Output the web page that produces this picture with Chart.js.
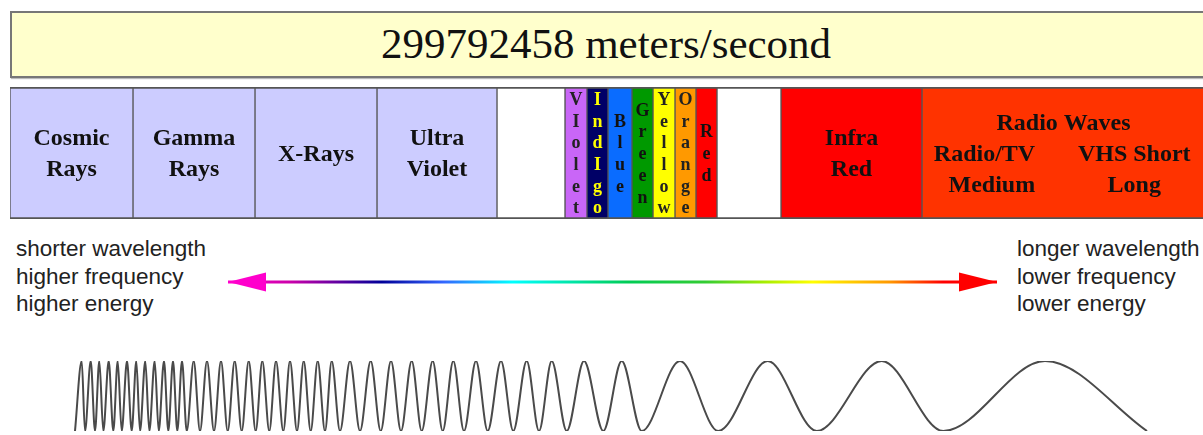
<!DOCTYPE html>
<html>
<head>
<meta charset="utf-8">
<script src="https://cdn.jsdelivr.net/npm/chart.js@4"></script>
<style>
  body { margin: 0; width: 1203px; height: 435px; overflow: hidden; position: relative; background: #fff; }
  #speed {
    position: absolute; left: 10px; top: 11px; width: 1196px; height: 67px; box-sizing: border-box;
    background: #ffffcc; border: 2px solid #777; box-shadow: 1px 1px 1px #bbb;
    font: 43px "Liberation Serif", "Times New Roman", serif; color: #111;
    text-align: center; line-height: 62px; padding-right: 4px;
  }
  .side {
    position: absolute; top: 235px;
    font: 22.5px "Liberation Sans", Arial, sans-serif; line-height: 27.5px; color: #222;
  }
  canvas { position: absolute; }
</style>
</head>
<body>
<div id="speed">299792458 meters/second</div>
<canvas id="spectrum" width="1195" height="132" style="left:10px;top:87px"></canvas>
<div class="side" style="left:16px">shorter wavelength<br>higher frequency<br>higher energy</div>
<div class="side" style="left:1017px">longer wavelength<br>lower frequency<br>lower energy</div>
<canvas id="arrow" width="1203" height="40" style="left:0;top:262px"></canvas>
<canvas id="wave" width="1203" height="81" style="left:0;top:354px"></canvas>
<script>
// bands of the spectrum, left to right
const bandLabels = ['Cosmic\nRays', 'Gamma\nRays', 'X-Rays', 'Ultra\nViolet', '',
  'VIolet', 'IndIgo', 'Blue', 'Green', 'Yellow', 'Orange', 'Red', '',
  'Infra\nRed', 'Radio Waves\nRadio/TV|VHS Short\nMedium|Long'];
const bandWidths = [123, 122, 122, 120, 68, 22, 21, 24, 21, 22, 21, 21, 64, 141, 283];
const bandVertical = [false, false, false, false, false, true, true, true, true, true, true, true, false, false, false];
const bandColors = ['#ccccff', '#ccccff', '#ccccff', '#ccccff', '#ffffff',
  '#c966f7', '#000066', '#0a6cff', '#009900', '#ffff00', '#ff9900', '#ff0000', '#ffffff',
  '#ff0000', '#ff3300'];
const bandTextColors = ['#111', '#111', '#111', '#111', '#111',
  '#222', '#ffff00', '#111', '#111', '#222', '#222', '#111', '#111', '#111', '#111'];

// arrow between the side texts
const arrowEnds = [228, 997];

// crests and troughs of the wave
const wavePeaks = [81.7, 90.7, 99.3, 108.7, 117.7, 127, 136.3, 145.3, 154.7, 164, 173, 182,
  193.7, 207, 221, 234.7, 248.7, 262.3, 276, 290, 303.7, 317.7, 331.7, 350, 370.7, 391,
  411.7, 432.7, 453.3, 476, 501, 526.7, 551.7, 584, 621.7, 680, 767.7, 881.7, 1045];
const waveTroughs = [75, 85, 95, 103.3, 113.3, 121.7, 131.7, 140, 149.3, 158.7, 168.3, 177.3,
  186.7, 200, 214, 227.7, 241.7, 255.7, 269.3, 283.3, 297, 310.7, 325, 340, 360, 380.7,
  401, 421.7, 442.7, 464, 487.7, 513.3, 539, 566.7, 603.3, 641.7, 718.3, 816.7, 943.3, 1147];

const bandLabelPlugin = {
  id: 'bandLabels',
  afterDatasetsDraw(chart) {
    const ctx = chart.ctx;
    ctx.save();
    ctx.textBaseline = 'middle';
    chart.data.datasets.forEach((ds, i) => {
      const bar = chart.getDatasetMeta(i).data[0];
      const left = Math.min(bar.base, bar.x), right = Math.max(bar.base, bar.x);
      const cx = (left + right) / 2;
      const cy = bar.y + 1.5;
      const vertical = bandVertical[i];
      const lines = vertical ? bandLabels[i].split('') : bandLabels[i].split('\n').filter(s => s);
      const step = vertical ? 21.7 : 31;
      ctx.font = vertical ? 'bold 18px "Liberation Serif"' : 'bold 24px "Liberation Serif"';
      ctx.fillStyle = bandTextColors[i];
      lines.forEach((line, k) => {
        const y = cy + (k - (lines.length - 1) / 2) * step;
        const parts = line.split('|');
        if (parts.length == 2) {
          ctx.textAlign = 'right';
          ctx.fillText(parts[0], left + (right - left) * 0.4, y);
          ctx.textAlign = 'center';
          ctx.fillText(parts[1], left + (right - left) * 0.75, y);
        } else {
          ctx.textAlign = 'center';
          ctx.fillText(line, cx, y);
        }
      });
    });
    ctx.restore();
  }
};

new Chart(document.getElementById('spectrum'), {
  type: 'bar',
  data: {
    labels: ['spectrum'],
    datasets: bandWidths.map((w, i) => ({
      label: bandLabels[i],
      data: [w],
      backgroundColor: bandColors[i],
      borderColor: '#555',
      borderWidth: {left: 1, right: 1, top: 2, bottom: 2},
      borderSkipped: false,
      barPercentage: 1,
      categoryPercentage: 1
    }))
  },
  options: {
    indexAxis: 'y',
    responsive: false,
    animation: false,
    events: [],
    layout: {padding: 0},
    plugins: {legend: {display: false}, tooltip: {enabled: false}},
    scales: {
      x: {stacked: true, display: false, min: 0, max: 1195},
      y: {stacked: true, display: false}
    }
  },
  plugins: [bandLabelPlugin]
});

const arrowHeads = {
  id: 'arrowHeads',
  afterDatasetsDraw(chart) {
    const ctx = chart.ctx;
    const pts = chart.getDatasetMeta(0).data;
    const y = pts[0].y;
    ctx.save();
    ctx.fillStyle = '#ff00cc';
    ctx.beginPath();
    ctx.moveTo(pts[0].x, y);
    ctx.lineTo(pts[0].x + 38, y - 9.5);
    ctx.lineTo(pts[0].x + 38, y + 9.5);
    ctx.closePath();
    ctx.fill();
    ctx.fillStyle = '#ff0000';
    ctx.beginPath();
    ctx.moveTo(pts[1].x, y);
    ctx.lineTo(pts[1].x - 38, y - 9.5);
    ctx.lineTo(pts[1].x - 38, y + 9.5);
    ctx.closePath();
    ctx.fill();
    ctx.restore();
  }
};

function arrowGradient(c) {
  const chart = c.chart;
  const xs = chart.scales.x;
  if (!chart.chartArea || !xs) return '#ff00cc';
  const x0 = xs.getPixelForValue(arrowEnds[0]), x1 = xs.getPixelForValue(arrowEnds[1]);
  if (!isFinite(x0) || !isFinite(x1)) return '#ff00cc';
  const g = chart.ctx.createLinearGradient(x0, 0, x1, 0);
  g.addColorStop(0, '#ff00cc');
  g.addColorStop(0.08, '#cc00aa');
  g.addColorStop(0.2, '#000099');
  g.addColorStop(0.28, '#3366ff');
  g.addColorStop(0.37, '#00ffff');
  g.addColorStop(0.52, '#00cc55');
  g.addColorStop(0.62, '#33cc33');
  g.addColorStop(0.7, '#aaee00');
  g.addColorStop(0.76, '#ffff00');
  g.addColorStop(0.86, '#ff9900');
  g.addColorStop(0.93, '#ff0000');
  g.addColorStop(1, '#ff0000');
  return g;
}

new Chart(document.getElementById('arrow'), {
  type: 'line',
  data: {
    datasets: [{
      data: arrowEnds.map(x => ({x: x, y: 0})),
      borderWidth: 3,
      pointRadius: 0,
      borderColor: arrowGradient
    }]
  },
  options: {
    responsive: false,
    animation: false,
    events: [],
    layout: {padding: 0},
    plugins: {legend: {display: false}, tooltip: {enabled: false}},
    scales: {
      x: {type: 'linear', display: false, min: 0, max: 1203},
      y: {display: false, min: -1, max: 1}
    }
  },
  plugins: [arrowHeads]
});

// wave points: crests up, troughs down, sorted along x
const wavePoints = wavePeaks.map(x => ({x: x, y: 1}))
  .concat(waveTroughs.map(x => ({x: x, y: -1})))
  .sort((a, b) => a.x - b.x);

new Chart(document.getElementById('wave'), {
  type: 'line',
  data: {
    datasets: [{
      data: wavePoints,
      borderColor: '#4a4a4a',
      borderWidth: 2,
      pointRadius: 0,
      cubicInterpolationMode: 'monotone'
    }]
  },
  options: {
    responsive: false,
    animation: false,
    events: [],
    layout: {padding: {top: 7, bottom: 4, left: 0, right: 0}},
    plugins: {legend: {display: false}, tooltip: {enabled: false}},
    scales: {
      x: {type: 'linear', display: false, min: 0, max: 1203},
      y: {display: false, min: -1, max: 1}
    }
  }
});
</script>
</body>
</html>
